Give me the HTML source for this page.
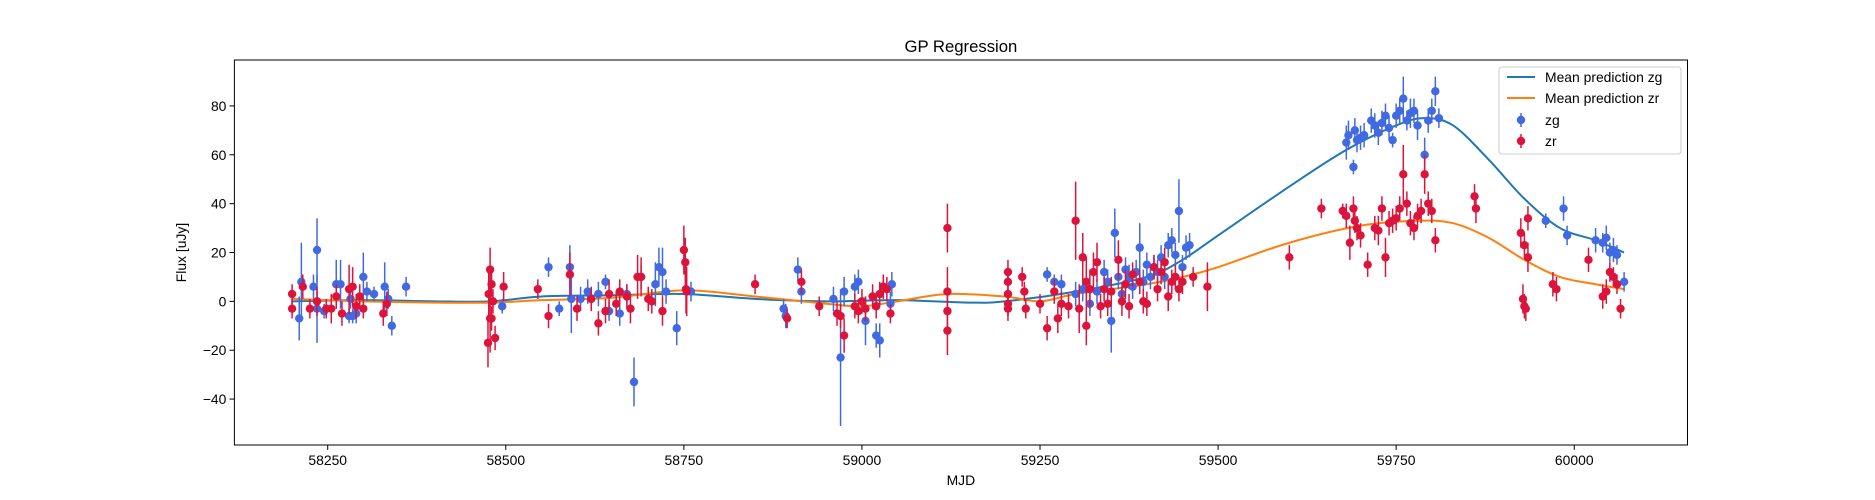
<!DOCTYPE html>
<html><head><meta charset="utf-8"><style>
html,body{margin:0;padding:0;background:#fff;}
svg{display:block;font-family:"Liberation Sans","DejaVu Sans",sans-serif;}
</style></head><body>
<svg id="chart" width="1875" height="500" viewBox="0 0 1875 500" xmlns="http://www.w3.org/2000/svg">
<rect width="1875" height="500" fill="#fff"/>
<text x="960.9" y="52" font-size="16.7" text-anchor="middle">GP Regression</text>
<g id="plot"></g>
<g id="axes"></g>
<text x="960.9" y="485" font-size="13.9" text-anchor="middle">MJD</text>
<text transform="translate(186,252.5) rotate(-90)" font-size="13.9" text-anchor="middle">Flux [uJy]</text>
<g>
<rect x="1499" y="67" width="182" height="87" rx="3" fill="#fff" fill-opacity="0.8" stroke="#ccc"/>
<line x1="1507" y1="77" x2="1535" y2="77" stroke="#1f77b4" stroke-width="2"/>
<text x="1545" y="82" font-size="13.9">Mean prediction zg</text>
<line x1="1507" y1="98" x2="1535" y2="98" stroke="#ff7f0e" stroke-width="2"/>
<text x="1545" y="103" font-size="13.9">Mean prediction zr</text>
<line x1="1521" y1="113" x2="1521" y2="127" stroke="#4169e1" stroke-width="1.5"/>
<circle cx="1521" cy="120" r="4.2" fill="#4169e1"/>
<text x="1545" y="125" font-size="13.9">zg</text>
<line x1="1521" y1="134" x2="1521" y2="148" stroke="#dc143c" stroke-width="1.5"/>
<circle cx="1521" cy="141" r="4.2" fill="#dc143c"/>
<text x="1545" y="146" font-size="13.9">zr</text>
</g>
</svg>
<script>
const zgMjd=[58210,58213,58230,58235,58235,58245,58262,58268,58280,58282,58285,58290,58300,58305,58315,58330,58335,58340,58360,
58495,58560,58575,58590,58592,58605,58615,58630,58640,58645,58660,58670,58680,58690,58710,58715,58720,58725,58740,58760,
58890,58893,58910,58915,58960,58970,58975,58990,58995,59005,59020,59025,59030,59040,59042,
59260,59270,59280,59300,59310,59320,59330,59340,59345,59350,59355,59360,59365,59370,59375,59380,59385,59390,59395,59400,59405,59410,59415,59420,59425,59430,59435,59440,59445,59450,59455,59460,
59680,59683,59690,59692,59695,59700,59705,59715,59720,59725,59730,59735,59740,59745,59750,59755,59760,59765,59770,59775,59780,59790,59795,59800,59805,59810,
59960,59985,59990,60030,60040,60045,60050,60055,60060,60070];
const zgFlux=[-7,8,6,21,-3,-4,7,7,-6,1,-6,-5,10,4,3,6,1,-10,6,
-2,14,-3,14,1,1,4,3,8,-4,-5,3,-33,10,7,14,12,4,-11,4,
-3,-6,13,4,1,-23,4,6,8,-8,-14,-16,6,-1,7,
11,8,7,3,5,-1,4,12,8,-8,28,10,3,13,10,6,12,22,8,15,10,14,12,18,10,23,25,19,37,14,22,23,
65,68,55,70,66,67,68,74,72,69,73,76,71,66,76,78,83,74,77,78,72,60,74,78,86,75,
33,38,27,25,24,26,20,21,19,8];
const zgErr=[9,16,5,13,14,3,10,10,3,4,3,4,10,4,3,10,4,4,4,
3,4,3,9,14,5,5,5,3,4,5,4,10,5,9,8,10,5,7,4,
4,5,5,5,5,28,6,5,5,10,5,7,5,5,5,
3,3,4,5,5,5,5,5,5,13,10,5,5,5,5,5,5,10,5,5,5,5,5,5,5,5,5,5,13,5,5,5,
7,6,3,5,5,5,5,5,5,5,5,5,5,3,5,5,9,4,6,5,6,7,5,5,6,4,
3,5,4,5,4,5,4,5,4,4];
const zrMjd=[58200,58200,58215,58225,58235,58248,58255,58262,58270,58280,58285,58290,58295,58300,58328,58333,
58475,58476,58478,58478,58480,58482,58485,58480,58497,58545,58560,58590,58600,58620,58630,58640,58645,58655,58660,58670,58675,58685,58690,58700,58705,58720,58750,58752,58753,58754,
58850,58895,58915,58940,58965,58970,58975,58990,58995,59000,59005,59015,59020,59025,59030,59035,59040,
59120,59120,59120,59120,59205,59205,59205,59205,59205,59225,59228,59230,59250,59260,59270,59275,59280,59290,59300,59305,59310,59315,59315,59320,59325,59330,59335,59340,59345,59350,59360,59365,59370,59375,59380,59390,59395,59400,59410,59415,59420,59425,59430,59435,59440,59445,59450,59465,59485,
59600,59645,59675,59680,59685,59690,59692,59695,59700,59710,59720,59725,59730,59735,59740,59745,59750,59755,59760,59765,59770,59775,59780,59785,59790,59795,59800,59805,59860,59862,
59925,59928,59930,59932,59935,59935,59930,59970,59975,60020,60040,60045,60050,60055,60060,60065];
const zrFlux=[3,-3,6,-3,0,-3,-3,2,-5,5,6,-2,2,-3,-5,-1,
-17,3,13,-7,7,0,-15,-7,6,5,-6,11,-3,1,-9,-4,3,-1,4,2,-3,10,10,1,0,-4,21,16,5,4,
7,-7,8,-2,-5,-6,-14,-2,-4,0,-3,2,-2,3,6,5,-5,
30,4,-4,-12,12,8,3,-1,-3,10,4,-3,-1,-11,4,-7,-1,-2,33,-3,18,8,-10,5,12,16,-2,5,-1,4,17,0,7,-2,11,8,0,-1,14,5,12,16,2,8,10,5,8,10,6,
18,38,37,35,24,38,33,30,27,15,30,29,38,18,32,33,34,38,52,40,32,30,35,37,52,40,37,25,43,38,
28,1,-2,-3,34,18,23,7,5,17,2,4,12,10,7,-3];
const zrErr=[4,4,5,4,6,4,6,5,5,10,8,5,5,4,5,5,
10,10,9,14,5,5,5,5,6,4,5,9,5,5,5,5,6,5,5,5,6,9,8,5,5,6,10,10,10,10,
4,4,5,4,5,5,7,5,5,5,5,5,5,5,5,5,4,
10,10,8,10,5,5,5,5,5,4,4,4,4,5,5,6,5,5,16,10,10,10,8,8,8,8,5,5,5,6,8,6,6,5,5,5,5,5,5,5,5,6,6,5,5,5,5,4,10,
5,4,3,5,7,5,5,5,5,5,5,6,5,8,5,5,5,5,12,5,5,5,5,5,8,5,5,5,5,6,
6,6,5,5,5,6,5,5,5,5,5,5,4,4,4,4];
const meanZgMjd=[58200,58300,58400,58480,58550,58650,58750,58850,58950,59050,59150,59200,59300,59400,59450,59500,59600,59680,59750,59790,59830,59880,59930,59980,60030,60070];
const meanZgFlux=[0,0.5,0,0,2,2.5,3,1,0,0.5,-0.5,0,4,10,17,27,47,62,72,75,72,58,42,30,25,20];
const meanZrMjd=[58200,58300,58400,58480,58550,58650,58750,58850,58950,59000,59050,59120,59200,59250,59300,59400,59450,59500,59600,59700,59780,59830,59880,59930,59980,60030,60070];
const meanZrFlux=[1,0,-0.5,-0.5,0.5,1.5,4.5,2,-1,-2,0,3,2,0,3,7,10,14,24,31,33,32,26,17,10,7,5];
const xTicks=[58250,58500,58750,59000,59250,59500,59750,60000];
const yTicks=[-40,-20,0,20,40,60,80];

const L=234.4,R=1687.5,T=60,B=445;
const X0=58119,X1=60159,Y0=-58.8,Y1=98.8;
const sx=v=>L+(v-X0)/(X1-X0)*(R-L);
const sy=v=>B-(v-Y0)/(Y1-Y0)*(B-T);
const NS='http://www.w3.org/2000/svg';
const plot=document.getElementById('plot'),axes=document.getElementById('axes');
function mk(tag,attrs,parent){const e=document.createElementNS(NS,tag);for(const k in attrs)e.setAttribute(k,attrs[k]);parent.appendChild(e);return e;}
const clip=mk('clipPath',{id:'clp'},plot);mk('rect',{x:L,y:T,width:R-L,height:B-T},clip);
const g=mk('g',{'clip-path':'url(#clp)'},plot);
function curve(xs,ys){const p=xs.map((x,i)=>[sx(x),sy(ys[i])]);let d='M'+p[0][0]+','+p[0][1];
for(let i=0;i<p.length-1;i++){const p0=p[Math.max(0,i-1)],p1=p[i],p2=p[i+1],p3=p[Math.min(p.length-1,i+2)];
d+=' C'+(p1[0]+(p2[0]-p0[0])/6)+','+(p1[1]+(p2[1]-p0[1])/6)+' '+(p2[0]-(p3[0]-p1[0])/6)+','+(p2[1]-(p3[1]-p1[1])/6)+' '+p2[0]+','+p2[1];}return d;}
const lz=mk('path',{d:curve(meanZgMjd,meanZgFlux),fill:'none',stroke:'#1f77b4','stroke-width':2},g);


const lr=mk('path',{d:curve(meanZrMjd,meanZrFlux),fill:'none',stroke:'#ff7f0e','stroke-width':2},g);


function pts(xs,ys,es,col,name){xs.forEach((x,i)=>{const grp=mk('g',{},g);


mk('line',{x1:sx(x),x2:sx(x),y1:sy(ys[i]-es[i]),y2:sy(ys[i]+es[i]),stroke:col,'stroke-width':1.5},grp);
mk('circle',{cx:sx(x),cy:sy(ys[i]),r:4.2,fill:col},grp);});}
pts(zgMjd,zgFlux,zgErr,'#4169e1','point-zg');
pts(zrMjd,zrFlux,zrErr,'#dc143c','point-zr');
mk('rect',{x:L,y:T,width:R-L,height:B-T,fill:'none',stroke:'#000','stroke-width':1},axes);
xTicks.forEach(t=>{const x=sx(t);mk('line',{x1:x,x2:x,y1:B,y2:B+4.9,stroke:'#000'},axes);
const tx=mk('text',{x:x,y:B+20,'font-size':13.9,'text-anchor':'middle'},axes);tx.textContent=t;

});
yTicks.forEach(t=>{const y=sy(t);mk('line',{x1:L-4.9,x2:L,y1:y,y2:y,stroke:'#000'},axes);
const tx=mk('text',{x:L-8,y:y+5,'font-size':13.9,'text-anchor':'end'},axes);tx.textContent=(t<0?'\u2212'+(-t):t);

});
</script>
</body></html>
